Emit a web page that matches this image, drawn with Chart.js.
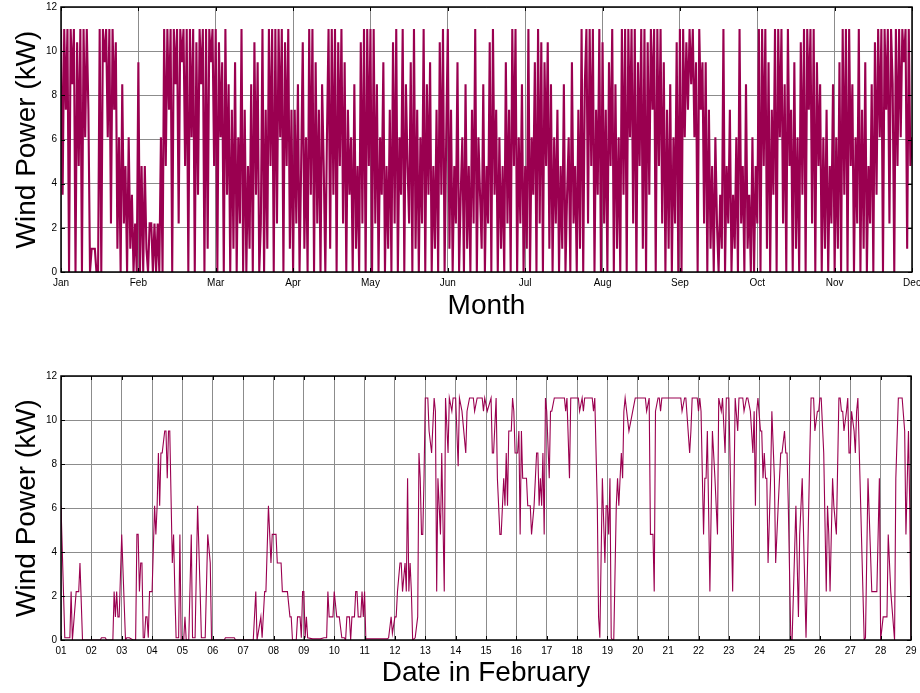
<!DOCTYPE html>
<html>
<head>
<meta charset="utf-8">
<title>Wind Power</title>
<script src="https://cdn.jsdelivr.net/npm/chart.js@4.4.1/dist/chart.umd.min.js"></script>
<style>
  html, body { margin: 0; padding: 0; background: #ffffff; }
  #page { position: relative; width: 920px; height: 693px; overflow: hidden; }
  .panel { position: absolute; left: 0; width: 920px; }
  #yearPanel { top: 0; height: 345px; }
  #febPanel { top: 345px; height: 348px; }
  canvas { display: block; }
</style>
</head>
<body>
<div id="page">
  <div class="panel" id="yearPanel"><canvas id="yearChart" width="920" height="345"></canvas></div>
  <div class="panel" id="febPanel"><canvas id="febChart" width="920" height="348"></canvas></div>
</div>
<script>
// ---- Data -------------------------------------------------------------

// Month tick labels for the yearly view (month starts, Jan .. Dec)
const monthLabels = ['Jan', 'Feb', 'Mar', 'Apr', 'May', 'Jun', 'Jul', 'Aug', 'Sep', 'Oct', 'Nov', 'Dec'];

// Yearly wind power (kW), 48 samples per month, Jan 1 .. Dec 1
const SAMPLES_PER_MONTH = 48;
const yearPower = [
  // Jan
  11, 3.5, 11, 7.35, 11, 0, 11, 8.5, 11, 0, 10.4, 4.8, 11, 0, 11, 6.1, 11,
  7.35, 0, 1.05, 1.05, 1.05, 0, 0,
  11, 0, 11, 9.5, 11, 6.1, 11, 2.2, 11, 7.35, 10.4,
  1.05, 6.1, 0, 8.5, 2.2, 4.8, 0, 6.1, 1.05, 3.5, 0, 2.2, 0,
  // Feb
  9.5, 0, 4.8, 0, 4.8, 1.05, 0, 2.2, 2.2, 0, 2.2, 0, 2.2, 0, 6.1,
  0, 11, 4.8, 11, 7.35, 11, 0, 11, 8.5, 11, 2.2, 11, 9.5, 11, 4.8, 11, 0,
  11, 6.1, 11, 0, 10.4, 3.5, 11, 8.5, 11, 0, 11, 1.05, 11, 9.5, 11, 4.8,
  // Mar
  11, 0, 10.4, 6.1, 9.5, 0, 11, 3.5, 8.5, 0, 7.35, 1.05, 9.5, 0, 6.1, 2.2,
  11, 0, 7.35, 0, 4.8, 1.05, 8.5, 0, 10.4, 3.5, 9.5, 0, 2.2, 11, 0, 7.35,
  1.05, 11, 4.8, 11, 0, 11, 2.2, 11, 6.1, 11, 0, 10.4, 4.8, 11, 1.05, 7.35,
  // Apr
  0, 7.35, 2.2, 8.5, 0, 4.8, 10.4, 1.05, 6.1, 0, 11, 3.5, 11, 0, 9.5, 2.2,
  7.35, 0, 8.5, 4.8, 0, 6.1, 11, 1.05, 11, 3.5, 11, 0, 10.4, 4.8, 11, 2.2,
  9.5, 0, 7.35, 3.5, 6.1, 0, 8.5, 1.05, 4.8, 0, 10.4, 2.2, 11, 0, 11, 4.8,
  // May
  11, 0, 11, 2.2, 8.5, 0, 6.1, 3.5, 9.5, 0, 4.8, 1.05, 7.35, 0, 10.4, 2.2,
  11, 0, 6.1, 3.5, 11, 0, 8.5, 4.8, 2.2, 9.5, 0, 11, 1.05, 7.35, 0, 6.1,
  2.2, 11, 0, 8.5, 3.5, 9.5, 0, 4.8, 1.05, 7.35, 0, 10.4, 3.5, 11, 0, 6.1,
  // Jun
  11, 1.05, 7.35, 0, 4.8, 2.2, 9.5, 0, 3.5, 6.1, 0, 8.5, 1.05, 4.8, 0, 7.35,
  2.2, 11, 0, 6.1, 3.5, 1.05, 8.5, 0, 4.8, 2.2, 10.4, 0, 11, 3.5, 7.35, 0,
  6.1, 1.05, 4.8, 0, 9.5, 2.2, 7.35, 0, 11, 4.8, 11, 0, 6.1, 2.2, 8.5, 0,
  // Jul
  4.8, 1.05, 11, 0, 6.1, 3.5, 9.5, 0, 11, 2.2, 10.4, 0, 9.5, 4.8, 10.4, 1.05,
  8.5, 0, 6.1, 2.2, 7.35, 0, 4.8, 1.05, 8.5, 0, 3.5, 6.1, 0, 9.5, 2.2, 4.8,
  0, 7.35, 1.05, 11, 0, 8.5, 11, 2.2, 11, 4.8, 11, 0, 7.35, 3.5, 11, 0,
  // Aug
  10.4, 2.2, 7.35, 0, 9.5, 4.8, 11, 0, 8.5, 1.05, 6.1, 0, 11, 3.5, 11, 0,
  11, 6.1, 11, 2.2, 11, 0, 9.5, 4.8, 11, 1.05, 11, 0, 10.4, 3.5, 11, 7.35,
  11, 0, 11, 4.8, 11, 2.2, 9.5, 0, 7.35, 1.05, 8.5, 0, 6.1, 2.2, 10.4, 0,
  // Sep
  11, 0, 11, 6.1, 10.4, 7.35, 11, 8.5, 11, 6.1, 9.5, 0, 11, 7.35, 9.5, 2.2,
  9.5, 0, 7.35, 1.05, 4.8, 0, 6.1, 2.2, 0, 3.5, 1.05, 11, 0, 4.8, 2.2, 7.35,
  0, 3.5, 1.05, 6.1, 0, 11, 2.2, 4.8, 0, 8.5, 1.05, 3.5, 0, 6.1, 0, 4.8,
  // Oct
  2.2, 11, 0, 11, 4.8, 11, 1.05, 9.5, 0, 7.35, 3.5, 11, 0, 11, 6.1, 11,
  2.2, 8.5, 0, 11, 4.8, 7.35, 0, 9.5, 1.05, 6.1, 0, 10.4, 3.5, 11, 0, 11,
  7.35, 11, 2.2, 11, 0, 9.5, 4.8, 8.5, 0, 6.1, 1.05, 7.35, 0, 4.8, 2.2, 8.5,
  // Nov
  0, 6.1, 1.05, 9.5, 0, 11, 3.5, 11, 0, 11, 4.8, 8.5, 0, 6.1, 2.2, 11,
  0, 7.35, 1.05, 9.5, 0, 4.8, 2.2, 8.5, 0, 10.4, 3.5, 11, 6.1, 11, 0, 11,
  7.35, 11, 2.2, 11, 8.5, 0, 11, 4.8, 11, 6.1, 11, 9.5, 11, 1.05, 11, 4.8,
  // Dec 1
  6.1
];

// Day tick labels for the February view
const dayLabels = ['01', '02', '03', '04', '05', '06', '07', '08', '09', '10',
  '11', '12', '13', '14', '15', '16', '17', '18', '19', '20',
  '21', '22', '23', '24', '25', '26', '27', '28', '29'];

// February wind power: hour since Feb 1 00:00 and power (kW)
const febHours = [
  0, 3, 7, 8, 9, 12, 14, 15, 17, 31, 32, 35, 36, 41, 42, 43, 44, 45, 46, 48,
  51, 52, 54, 57, 59, 60, 61, 62, 63, 64, 65, 66, 67, 68, 69, 70, 72, 74, 75, 76,
  77, 78, 79, 80, 82, 83, 84, 85, 86, 88, 89, 90, 91, 93, 94, 95, 97, 98, 99, 101,
  103, 104, 106, 108, 110, 111, 114, 116, 118, 119, 129, 130, 137, 138, 152, 154, 155, 158, 159, 161,
  162, 164, 166, 167, 170, 171, 174, 175, 179, 181, 182, 183, 186, 187, 189, 190, 191, 192, 193, 194,
  195, 199, 205, 208, 210, 211, 212, 215, 216, 218, 220, 222, 224, 225, 226, 228, 229, 230, 232, 233,
  234, 235, 237, 238, 239, 240, 241, 258, 259, 261, 262, 264, 265, 266, 268, 269, 270, 272, 273, 274,
  275, 276, 277, 278, 280, 282, 283, 284, 285, 286, 287, 288, 290, 291, 293, 295, 296, 297, 298, 300,
  301, 303, 304, 306, 307, 309, 310, 312, 314, 315, 317, 320, 321, 323, 326, 327, 329, 333, 334, 335,
  337, 340, 341, 342, 344, 345, 347, 348, 350, 351, 352, 353, 354, 356, 357, 358, 359, 361, 362, 363,
  364, 365, 368, 369, 371, 372, 374, 376, 377, 378, 379, 380, 381, 382, 383, 384, 386, 387, 388, 390,
  398, 399, 400, 402, 403, 409, 410, 412, 413, 414, 420, 421, 422, 424, 425, 426, 428, 430, 431, 432,
  433, 434, 435, 436, 437, 439, 440, 441, 442, 443, 444, 445, 446, 449, 452, 454, 462, 463, 465, 466,
  468, 469, 470, 472, 473, 474, 475, 490, 491, 493, 494, 497, 498, 499, 503, 504, 505, 506, 508, 509,
  510, 511, 513, 515, 517, 519, 520, 522, 523, 525, 526, 528, 531, 533, 535, 536, 539, 540, 542, 543,
  545, 547, 548, 549, 550, 551, 553, 554, 555, 556, 557, 558, 559, 561, 562, 564, 565, 567, 569, 570,
  572, 573, 574, 575, 577, 578, 581, 583, 584, 586, 589, 592, 593, 595, 596, 598, 599, 600, 601, 603,
  605, 606, 607, 608, 610, 611, 613, 615, 616, 617, 618, 619, 621, 622, 623, 624, 625, 627, 628, 629,
  630, 635, 636, 638, 641, 645, 647, 648, 650, 653, 654, 656, 659, 660, 662, 665, 667, 668, 670, 671,
  672
];
const febPower = [
  6.1, 0.1, 0.1, 2.2, 0, 2.2, 2.2, 3.5, 0, 0, 0.1, 0.1, 0, 0, 2.2, 1.05, 2.2, 1.05, 1.05, 4.8,
  0, 0.1, 0.1, 0, 0, 4.8, 4.8, 2.2, 3.5, 3.5, 0.1, 0.1, 1.05, 1.05, 0.1, 2.2, 2.2, 6.1, 4.8, 6.1,
  8.5, 6.1, 8.5, 8.5, 9.5, 9.5, 7.35, 9.5, 9.5, 3.5, 4.8, 2.2, 0.1, 0.1, 4.8, 0, 0, 1.05, 0, 0,
  4.8, 0.1, 0.1, 6.1, 2.2, 0.1, 0.1, 4.8, 3.5, 0, 0, 0.1, 0.1, 0, 0, 2.2, 0, 1.05, 0.1, 2.2,
  2.2, 6.1, 3.5, 4.8, 4.8, 3.5, 3.5, 2.2, 2.2, 1.05, 1.05, 0, 0, 1.05, 1.05, 0.1, 2.2, 2.2, 0.1, 1.05,
  0.1, 0.05, 0.05, 0.1, 0.1, 2.2, 1.05, 1.05, 2.2, 1.05, 1.05, 0.1, 0.1, 0, 1.05, 1.05, 0, 1.05, 1.05, 2.2,
  2.2, 1.05, 1.05, 2.2, 1.05, 2.2, 0.05, 0.05, 0.1, 1.05, 0.3, 1.05, 1.05, 2.2, 3.5, 3.5, 2.2, 3.5, 2.2, 7.35,
  2.2, 3.5, 2.2, 0, 0.1, 1.05, 8.5, 7.35, 4.8, 4.8, 7.35, 11, 11, 9.5, 8.5, 11, 10.4, 2.2, 7.35, 4.8,
  8.5, 2.2, 11, 8.5, 11, 10.4, 11, 11, 7.9, 11, 10.4, 8.5, 10.4, 11, 11, 10.4, 11, 11, 10.4, 11,
  10.4, 11, 8.5, 8.5, 11, 7.35, 4.8, 4.8, 7.35, 6.1, 8.5, 6.1, 9.5, 9.5, 11, 10.4, 8.5, 8.5, 9.5, 4.8,
  9.5, 7.35, 7.35, 6.1, 6.1, 4.8, 6.1, 8.5, 8.5, 6.1, 7.35, 6.1, 8.5, 4.8, 11, 10.4, 7.35, 10.4, 10.4, 11,
  11, 10.4, 11, 7.35, 11, 11, 10.4, 11, 10.4, 11, 11, 10.4, 11, 6.1, 1.05, 0.1, 7.35, 3.5, 6.1, 6.1,
  4.8, 7.35, 0.1, 0, 0, 6.1, 7.35, 6.1, 7.35, 8.5, 7.35, 10.4, 11, 9.5, 10.4, 11, 11, 10.4, 11, 4.8,
  4.8, 2.2, 10.4, 11, 11, 10.4, 11, 11, 10.4, 11, 11, 8.5, 9.5, 11, 11, 10.4, 11, 10.4, 4.8, 7.35,
  7.35, 9.5, 2.2, 9.5, 7.35, 4.8, 11, 10.4, 11, 8.5, 11, 11, 2.2, 11, 9.5, 11, 11, 10.4, 11, 11,
  10.4, 8.5, 10.4, 6.1, 10.4, 11, 9.5, 9.5, 7.35, 8.5, 7.35, 7.35, 3.5, 7.35, 10.4, 7.35, 3.5, 6.1, 8.5, 8.5,
  9.5, 8.5, 8.5, 6.1, 0, 0, 6.1, 1.05, 4.8, 7.35, 0.1, 8.5, 11, 11, 9.5, 10.4, 10.4, 11, 11, 8.5,
  2.2, 6.1, 4.8, 2.2, 7.35, 6.1, 4.8, 11, 11, 10.4, 10.4, 9.5, 10.4, 11, 8.5, 8.5, 10.4, 9.5, 8.5, 10.4,
  11, 0, 0.1, 7.35, 2.2, 2.2, 7.35, 0, 1.05, 1.05, 4.8, 2.2, 0, 7.35, 11, 11, 9.5, 4.8, 9.5, 6.1,
  0
];

// ---- Styling ----------------------------------------------------------

const LINE_COLOR = '#9a0050';
const GRID_COLOR = '#8c8c8c';
const FONT_FAMILY = "'Liberation Sans', Arial, Helvetica, sans-serif";

// Box around the plot area plus short inward tick marks on all four sides
const axesBox = {
  id: 'axesBox',
  afterDraw(chart) {
    const { ctx, chartArea: a, scales: { x, y } } = chart;
    const len = 4;
    ctx.save();
    ctx.strokeStyle = '#000';
    ctx.lineWidth = 1;
    ctx.beginPath();
    x.ticks.forEach(t => {
      const px = Math.round(x.getPixelForValue(t.value)) + 0.5;
      ctx.moveTo(px, a.bottom); ctx.lineTo(px, a.bottom - len);
      ctx.moveTo(px, a.top); ctx.lineTo(px, a.top + len);
    });
    y.ticks.forEach(t => {
      const py = Math.round(y.getPixelForValue(t.value)) + 0.5;
      ctx.moveTo(a.left, py); ctx.lineTo(a.left + len, py);
      ctx.moveTo(a.right, py); ctx.lineTo(a.right - len, py);
    });
    ctx.stroke();
    ctx.lineWidth = 1.5;
    ctx.strokeRect(a.left, a.top, a.right - a.left, a.bottom - a.top);
    ctx.restore();
  }
};

function buildChart(canvasId, points, cfg) {
  return new Chart(document.getElementById(canvasId), {
    type: 'line',
    data: {
      datasets: [{
        data: points,
        borderColor: LINE_COLOR,
        borderWidth: cfg.lineWidth,
        pointRadius: 0,
        tension: 0,
        fill: false
      }]
    },
    options: {
      responsive: false,
      animation: false,
      events: [],
      layout: { padding: cfg.padding },
      plugins: { legend: { display: false }, tooltip: { enabled: false } },
      scales: {
        x: {
          type: 'linear',
          min: cfg.xMin,
          max: cfg.xMax,
          afterBuildTicks: s => { s.ticks = cfg.xTicks.map(v => ({ value: v })); },
          afterFit: s => {
            s.height = cfg.xHeight;
            // edge labels may run past the plot box, as in the original layout
            s.paddingLeft = 0;
            s.paddingRight = 0;
          },
          grid: { color: GRID_COLOR, lineWidth: 1, drawTicks: false },
          border: { display: false },
          ticks: {
            autoSkip: false, maxRotation: 0, padding: 5, color: '#000',
            font: { family: FONT_FAMILY, size: 10 },
            callback: cfg.xLabel
          },
          title: {
            display: true, text: cfg.xTitle, color: '#000',
            font: { family: FONT_FAMILY, size: 28 },
            padding: { top: 0, bottom: cfg.xTitlePad }
          }
        },
        y: {
          min: 0,
          max: 12,
          afterFit: s => { s.width = 61; s.paddingTop = 0; s.paddingBottom = 0; },
          grid: { color: GRID_COLOR, lineWidth: 1, drawTicks: false },
          border: { display: false },
          ticks: {
            stepSize: 2, padding: 4, color: '#000',
            font: { family: FONT_FAMILY, size: 10 }
          },
          title: {
            display: true, text: 'Wind Power (kW)', color: '#000',
            font: { family: FONT_FAMILY, size: 28 },
            padding: { top: 10, bottom: 0 }
          }
        }
      }
    },
    plugins: [axesBox]
  });
}

// ---- Charts -----------------------------------------------------------

buildChart('yearChart',
  yearPower.map((v, i) => ({ x: i / SAMPLES_PER_MONTH, y: v })),
  {
    lineWidth: 2.1,
    padding: { top: 7, right: 8, left: 0, bottom: 0 },
    xMin: 0, xMax: monthLabels.length - 1,
    xTicks: monthLabels.map((_, i) => i),
    xLabel: v => monthLabels[v],
    xHeight: 73,
    xTitle: 'Month',
    xTitlePad: 22
  });

buildChart('febChart',
  febHours.map((h, i) => ({ x: h, y: febPower[i] })),
  {
    lineWidth: 1.1,
    padding: { top: 31, right: 9, left: 0, bottom: 0 },
    xMin: 0, xMax: (dayLabels.length - 1) * 24,
    xTicks: dayLabels.map((_, i) => i * 24),
    xLabel: v => dayLabels[Math.round(v / 24)],
    xHeight: 53,
    xTitle: 'Date in February',
    xTitlePad: 3
  });
</script>
</body>
</html>
